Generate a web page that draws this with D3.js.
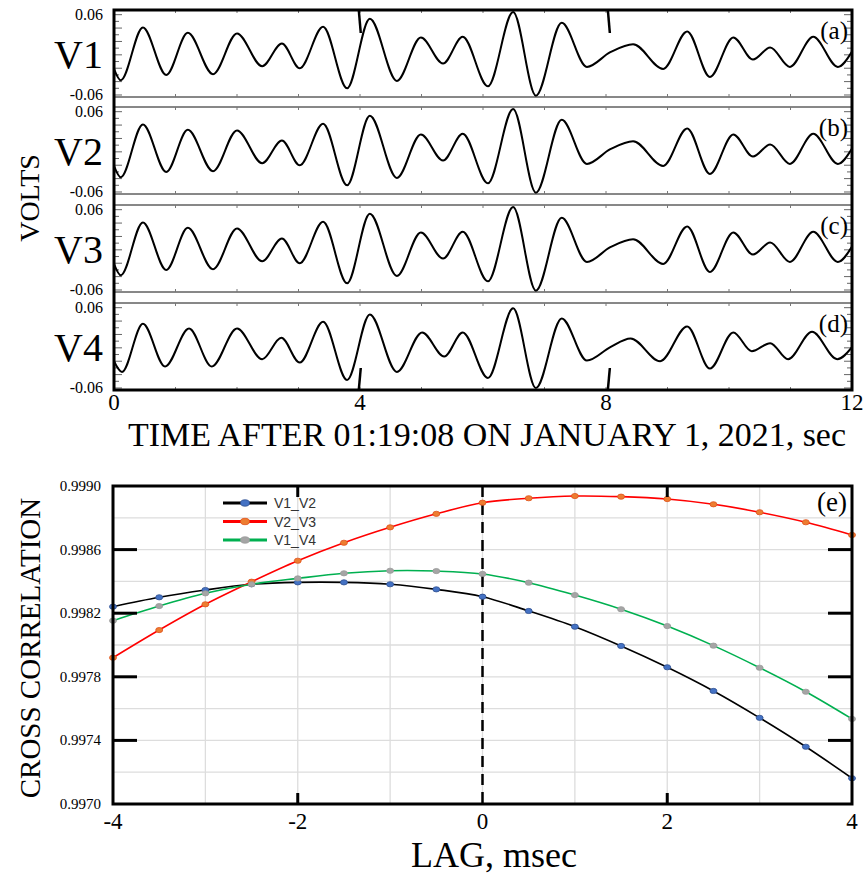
<!DOCTYPE html>
<html>
<head>
<meta charset="utf-8">
<script src="https://cdn.jsdelivr.net/npm/d3@7"></script>
<style>
  body { margin: 0; background: #fff; }
  svg { display: block; }
  text { font-family: "Liberation Serif", "Times New Roman", serif; fill: #000; }
</style>
</head>
<body>
<svg id="chart" width="868" height="876"></svg>
<script>
// ---- top panels: waveforms (time in sec, volts), read at peaks/troughs
const panelNames = ["V1", "V2", "V3", "V4"];
const panelTags = ["(a)", "(b)", "(c)", "(d)"];
const timeTicks = [0, 4, 8, 12];
const markerTimes = [3.98, 8.03];

const v1 = [[0,-0.021],[0.11,-0.038],[0.47,0.041],[0.85,-0.030],[1.20,0.033],[1.61,-0.029],[2.00,0.032],
  [2.41,-0.017],[2.73,0.017],[3.02,-0.020],[3.40,0.042],[3.79,-0.050],[4.16,0.054],[4.60,-0.039],
  [4.99,0.026],[5.35,-0.013],[5.67,0.027],[6.08,-0.047],[6.49,0.064],[6.86,-0.061],[7.28,0.048],
  [7.69,-0.018],[8.07,0.004],[8.44,0.016],[8.93,-0.021],[9.32,0.035],[9.69,-0.033],[10.07,0.026],
  [10.39,-0.007],[10.67,0.011],[10.99,-0.018],[11.37,0.027],[11.77,-0.018],[12,0.005]];
const v2 = [[0,-0.021],[0.11,-0.038],[0.47,0.041],[0.85,-0.030],[1.20,0.033],[1.61,-0.029],[2.00,0.032],
  [2.41,-0.017],[2.73,0.017],[3.02,-0.020],[3.40,0.042],[3.79,-0.050],[4.16,0.054],[4.60,-0.039],
  [4.99,0.026],[5.35,-0.013],[5.67,0.027],[6.08,-0.047],[6.49,0.064],[6.86,-0.061],[7.28,0.048],
  [7.69,-0.018],[8.07,0.004],[8.44,0.016],[8.93,-0.021],[9.32,0.035],[9.69,-0.033],[10.07,0.026],
  [10.39,-0.007],[10.67,0.011],[10.99,-0.018],[11.37,0.027],[11.77,-0.018],[12,0.005]];
const v3 = [[0,-0.021],[0.11,-0.038],[0.47,0.041],[0.85,-0.030],[1.20,0.033],[1.61,-0.029],[2.00,0.032],
  [2.41,-0.017],[2.73,0.017],[3.02,-0.020],[3.40,0.042],[3.79,-0.050],[4.16,0.054],[4.60,-0.039],
  [4.99,0.026],[5.35,-0.013],[5.67,0.027],[6.08,-0.047],[6.49,0.064],[6.86,-0.061],[7.28,0.048],
  [7.69,-0.018],[8.07,0.004],[8.44,0.016],[8.93,-0.021],[9.32,0.035],[9.69,-0.033],[10.07,0.026],
  [10.39,-0.007],[10.67,0.011],[10.99,-0.018],[11.37,0.027],[11.77,-0.018],[12,0.005]];
const v4 = [[0,-0.020],[0.13,-0.036],[0.47,0.036],[0.83,-0.028],[1.22,0.029],[1.59,-0.028],[2.00,0.029],
  [2.41,-0.017],[2.72,0.015],[3.02,-0.022],[3.40,0.039],[3.79,-0.048],[4.16,0.050],[4.60,-0.036],
  [5.01,0.023],[5.37,-0.013],[5.67,0.023],[6.08,-0.045],[6.49,0.059],[6.86,-0.060],[7.28,0.044],
  [7.69,-0.019],[8.07,0.001],[8.40,0.014],[8.88,-0.020],[9.32,0.032],[9.69,-0.031],[10.07,0.023],
  [10.37,-0.005],[10.67,0.007],[10.96,-0.017],[11.35,0.024],[11.76,-0.017],[12,0.001]];
const waves = [v1, v2, v3, v4];

// ---- bottom panel: cross correlation vs lag
const lags = [-4,-3.5,-3,-2.5,-2,-1.5,-1,-0.5,0,0.5,1,1.5,2,2.5,3,3.5,4];
const v1v2 = [0.998241,0.998300,0.998346,0.998382,0.998394,0.998394,0.998382,0.998350,0.998304,
  0.998214,0.998115,0.997994,0.997860,0.997711,0.997542,0.997360,0.997162];
const v2v3 = [0.997920,0.998094,0.998256,0.998398,0.998530,0.998643,0.998740,0.998825,0.998895,
  0.998923,0.998937,0.998933,0.998918,0.998885,0.998835,0.998772,0.998692];
const v1v4 = [0.998153,0.998245,0.998325,0.998382,0.998419,0.998451,0.998467,0.998465,0.998447,
  0.998392,0.998314,0.998225,0.998119,0.997996,0.997857,0.997706,0.997535];
const seriesNames = ["V1_V2", "V2_V3", "V1_V4"];
const corrTicks = [0.9970, 0.9974, 0.9978, 0.9982, 0.9986, 0.9990];
const lagTicks = [-4, -2, 0, 2, 4];

const svg = d3.select("#chart");

// ================= top: four stacked waveform panels =================
const x = d3.scaleLinear().domain([0, 12]).range([114, 852]);
const panelTop = [10, 107, 205, 303];
const panelH = 87;

panelTop.forEach((top, i) => {
  const bottom = top + panelH;
  const y = d3.scaleLinear().domain([-0.063, 0.067]).range([bottom, top]);
  const g = svg.append("g");

  // thin panel frame
  g.append("line").attr("x1", x(0)).attr("x2", x(12)).attr("y1", top).attr("y2", top)
    .attr("stroke", "#111").attr("stroke-width", 1);
  g.append("line").attr("x1", x(0)).attr("x2", x(12)).attr("y1", bottom).attr("y2", bottom)
    .attr("stroke", "#111").attr("stroke-width", 1);

  // left / right inward ticks
  d3.range(-0.06, 0.0601, 0.01).forEach((v, k) => {
    const len = k % 2 === 0 ? 8 : 5;
    g.append("line").attr("x1", x(0)).attr("x2", x(0) + len).attr("y1", y(v)).attr("y2", y(v))
      .attr("stroke", "#666").attr("stroke-width", 1);
    g.append("line").attr("x1", x(12)).attr("x2", x(12) - len).attr("y1", y(v)).attr("y2", y(v))
      .attr("stroke", "#666").attr("stroke-width", 1);
  });
  // top / bottom inward ticks every second
  d3.range(1, 12).forEach(t => {
    g.append("line").attr("x1", x(t)).attr("x2", x(t)).attr("y1", top).attr("y2", top + 3)
      .attr("stroke", "#777").attr("stroke-width", 1);
    g.append("line").attr("x1", x(t)).attr("x2", x(t)).attr("y1", bottom).attr("y2", bottom - 3)
      .attr("stroke", "#777").attr("stroke-width", 1);
  });

  // tick labels
  [0.06, -0.06].forEach(v => {
    g.append("text").attr("x", 103).attr("y", y(v) + 5).attr("text-anchor", "end")
      .attr("font-size", 16).text(v.toFixed(2));
  });
  g.append("text").attr("x", 103).attr("y", (top + bottom) / 2 + 14).attr("text-anchor", "end")
    .attr("font-size", 40).text(panelNames[i]);
  g.append("text").attr("x", 848).attr("y", top + 29).attr("text-anchor", "end")
    .attr("font-size", 25).text(panelTags[i]);

  // waveform
  const line = d3.line().x(d => x(d[0])).y(d => y(d[1])).curve(d3.curveMonotoneX);
  g.append("path").datum(waves[i]).attr("d", line)
    .attr("fill", "none").attr("stroke", "#000").attr("stroke-width", 2);

  // event markers on first and last panel
  if (i === 0 || i === 3) {
    markerTimes.forEach(t => {
      const y0 = i === 0 ? top : bottom;
      const y1 = i === 0 ? top + 23 : bottom - 22;
      g.append("line").attr("x1", x(t)).attr("x2", x(t) + 2).attr("y1", y0).attr("y2", y1)
        .attr("stroke", "#000").attr("stroke-width", 2.5);
    });
  }
});

// thick outer frame of the stacked panels
const frameTop = panelTop[0], frameBot = panelTop[3] + panelH;
svg.append("rect").attr("x", x(0)).attr("y", frameTop)
  .attr("width", x(12) - x(0)).attr("height", frameBot - frameTop)
  .attr("fill", "none").attr("stroke", "#000").attr("stroke-width", 3);

// x tick labels + title
timeTicks.forEach(t => {
  svg.append("text").attr("x", x(t)).attr("y", 410).attr("text-anchor", "middle")
    .attr("font-size", 23).text(t);
});
svg.append("text").attr("x", 487).attr("y", 446).attr("text-anchor", "middle")
  .attr("font-size", 33).attr("textLength", 718).attr("lengthAdjust", "spacingAndGlyphs")
  .text("TIME AFTER 01:19:08 ON JANUARY 1, 2021, sec");
svg.append("text").attr("transform", "translate(39,198) rotate(-90)").attr("text-anchor", "middle")
  .attr("font-size", 28).text("VOLTS");

// ================= bottom: cross correlation =================
const xl = d3.scaleLinear().domain([-4, 4]).range([113, 852]);
const yl = d3.scaleLinear().domain([0.9970, 0.9990]).range([804, 486]);
const cg = svg.append("g");

// grid
d3.range(-3, 4).forEach(v => {
  cg.append("line").attr("x1", xl(v)).attr("x2", xl(v)).attr("y1", yl.range()[1]).attr("y2", yl.range()[0])
    .attr("stroke", "#dddddd").attr("stroke-width", 1.3);
});
d3.range(0.9972, 0.99895, 0.0002).forEach(v => {
  cg.append("line").attr("x1", xl(-4)).attr("x2", xl(4)).attr("y1", yl(v)).attr("y2", yl(v))
    .attr("stroke", "#dddddd").attr("stroke-width", 1.3);
});

// zero-lag dashed line
cg.append("line").attr("x1", xl(0)).attr("x2", xl(0)).attr("y1", yl(0.9990)).attr("y2", yl(0.9970))
  .attr("stroke", "#000").attr("stroke-width", 2.5).attr("stroke-dasharray", "11,7");

// series
const colors = [
  { line: "#000000", fill: "#4472c4", edge: "#2f4f8f" },
  { line: "#ff0000", fill: "#ed7d31", edge: "#e0501a" },
  { line: "#00b050", fill: "#a5a5a5", edge: "#999999" }
];
[v1v2, v2v3, v1v4].forEach((vals, s) => {
  const pts = lags.map((l, k) => [l, vals[k]]);
  const line = d3.line().x(d => xl(d[0])).y(d => yl(d[1])).curve(d3.curveCatmullRom);
  cg.append("path").datum(pts).attr("d", line)
    .attr("fill", "none").attr("stroke", colors[s].line).attr("stroke-width", 1.6);
  cg.selectAll(null).data(pts).enter().append("ellipse")
    .attr("cx", d => xl(d[0])).attr("cy", d => yl(d[1]))
    .attr("rx", 3.5).attr("ry", 2.6)
    .attr("fill", colors[s].fill).attr("stroke", colors[s].edge).attr("stroke-width", 0.8);
});

// frame
cg.append("rect").attr("x", xl(-4)).attr("y", yl(0.9990))
  .attr("width", xl(4) - xl(-4)).attr("height", yl(0.9970) - yl(0.9990))
  .attr("fill", "none").attr("stroke", "#000").attr("stroke-width", 3);

// major ticks (inward)
corrTicks.slice(1, -1).forEach(v => {
  cg.append("line").attr("x1", xl(-4)).attr("x2", xl(-4) + 24).attr("y1", yl(v)).attr("y2", yl(v))
    .attr("stroke", "#000").attr("stroke-width", 3);
  cg.append("line").attr("x1", xl(4)).attr("x2", xl(4) - 24).attr("y1", yl(v)).attr("y2", yl(v))
    .attr("stroke", "#000").attr("stroke-width", 3);
});
[-2, 2].forEach(v => {
  cg.append("line").attr("x1", xl(v)).attr("x2", xl(v)).attr("y1", yl(0.9970)).attr("y2", yl(0.9970) - 11)
    .attr("stroke", "#000").attr("stroke-width", 3);
  cg.append("line").attr("x1", xl(v)).attr("x2", xl(v)).attr("y1", yl(0.9990)).attr("y2", yl(0.9990) + 11)
    .attr("stroke", "#000").attr("stroke-width", 3);
});

// tick labels
corrTicks.forEach(v => {
  cg.append("text").attr("x", 101).attr("y", yl(v) + 5).attr("text-anchor", "end")
    .attr("font-size", 15).text(v.toFixed(4));
});
lagTicks.forEach(v => {
  cg.append("text").attr("x", xl(v)).attr("y", 829).attr("text-anchor", "middle")
    .attr("font-size", 23).text(v);
});
cg.append("text").attr("x", 494).attr("y", 867).attr("text-anchor", "middle")
  .attr("font-size", 36).text("LAG, msec");
cg.append("text").attr("transform", "translate(40,648) rotate(-90)").attr("text-anchor", "middle")
  .attr("font-size", 29).text("CROSS CORRELATION");
cg.append("text").attr("x", 847).attr("y", 511).attr("text-anchor", "end")
  .attr("font-size", 27).text("(e)");

// legend
const lg = cg.append("g");
seriesNames.forEach((name, s) => {
  const ly = 503 + s * 18.5;
  lg.append("line").attr("x1", 223).attr("x2", 267).attr("y1", ly).attr("y2", ly)
    .attr("stroke", colors[s].line).attr("stroke-width", 3);
  lg.append("ellipse").attr("cx", 245).attr("cy", ly).attr("rx", 4.5).attr("ry", 3.2)
    .attr("fill", colors[s].fill).attr("stroke", colors[s].edge).attr("stroke-width", 0.8);
  lg.append("text").attr("x", 274).attr("y", ly + 5)
    .style("font-family", "'Liberation Sans', Arial, sans-serif").style("fill", "#333")
    .attr("font-size", 14).text(name);
});
</script>
</body>
</html>
